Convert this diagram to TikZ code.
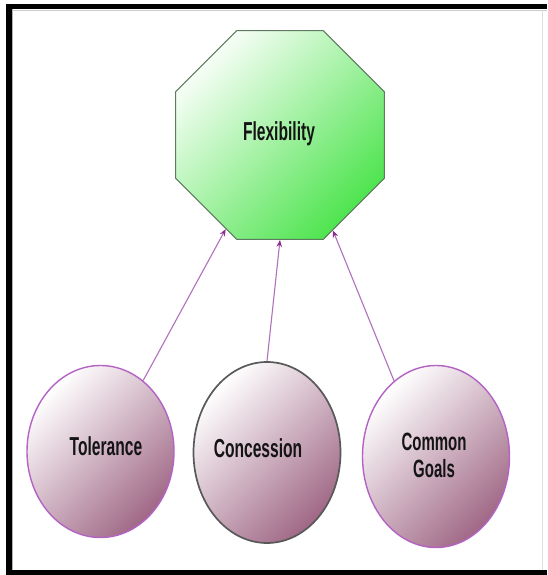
\documentclass[tikz,border=0pt]{standalone}
\usepackage{fontspec}
\newfontfamily\nfont{Liberation Sans Bold}[FakeStretch=0.6]
\usetikzlibrary{shapes.geometric,arrows.meta}
\definecolor{ovlight}{HTML}{F6FEF6}
\definecolor{ovmid}{HTML}{BDF7BD}
\definecolor{ovdark}{HTML}{4FE44F}
\definecolor{ovline}{HTML}{5E7A60}
\definecolor{ellight}{HTML}{FFFFFF}
\definecolor{elmid}{HTML}{EDE0E6}
\definecolor{eldark}{HTML}{A06886}
\definecolor{elline}{HTML}{B463C4}
\definecolor{arrline}{HTML}{B071BC}
\definecolor{arrtip}{HTML}{8A2C8E}
\definecolor{txt}{HTML}{141414}
\tikzset{
  octbox/.style={regular polygon, regular polygon sides=8, minimum size=226pt,
    draw=ovline, line width=1.1pt, top color=ovlight, middle color=ovmid, bottom color=ovdark,
    shading angle=45, inner sep=0pt},
  ellbox/.style={ellipse, draw=elline, line width=1.4pt, top color=ellight, middle color=elmid,
    bottom color=eldark, shading angle=45, inner sep=0pt, minimum width=147pt},
  lbl/.style={text=txt, font=\nfont\fontsize{26}{26}\selectfont, align=center},
  conn/.style={draw=arrline, line width=1.1pt, -{Stealth[length=7pt,width=5.5pt,color=arrtip]}}
}
\begin{document}
\begin{tikzpicture}[x=1pt,y=-1pt]
\useasboundingbox (0,0) rectangle (547,575);
\fill[white] (0,0) rectangle (547,575);
% frame
\fill[black] (6,4) rectangle (12,575);
\fill[black] (6,4) rectangle (547,9.5);
\fill[black] (6,570) rectangle (547,575);
\draw[gray!60, line width=0.8pt] (12.8,9.5) -- (12.8,570);
\draw[gray!40, line width=0.6pt] (12.8,10.2) -- (547,10.2);
\draw[gray!25, line width=0.8pt] (542,10) -- (542,570);
% nodes
\node[octbox] (flex) at (280,135) {};
\node[lbl] (flext) at (279,134) {Flexibility};
\node[ellbox, minimum height=172pt] (tol) at (100.5,451.5) {};
\node[ellbox, minimum height=181pt, draw=black!65, line width=1.7pt] (con) at (267,452.5) {};
\node[ellbox, minimum height=182pt] (cg) at (436,456.5) {};
\node[lbl] (tolt) at (106,446) {Tolerance};
\node[lbl] (cont) at (258,448) {Concession};
\node[lbl, text width=90pt, font=\nfont\fontsize{25}{27}\selectfont] (cgt) at (434,455) {Common\\Goals};
% connectors
\draw[conn] (tol.59) -- (flex.240);
\draw[conn] (con.90) -- (flex.270);
\draw[conn] (cg.119.5) -- (flex.299);
\end{tikzpicture}
\end{document}
